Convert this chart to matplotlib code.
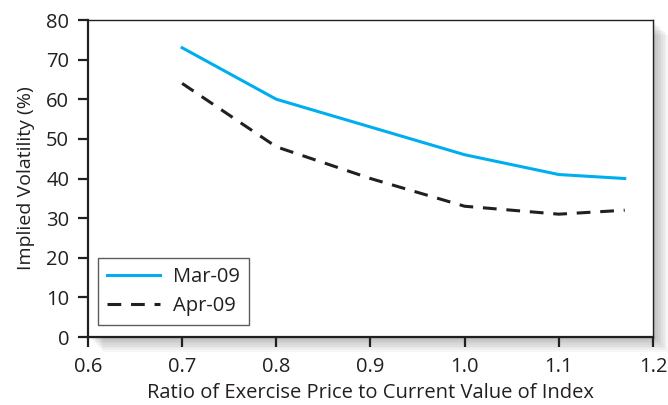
import matplotlib
matplotlib.use("Agg")
import matplotlib.pyplot as plt
from matplotlib.patches import Rectangle

# Implied volatility vs. moneyness for two expiries
ratio = [0.7, 0.8, 0.9, 1.0, 1.1, 1.17]
mar_09 = [73, 60, 53, 46, 41, 40]
apr_09 = [64, 48, 40, 33, 31, 32]
x_ticks = [0.6, 0.7, 0.8, 0.9, 1.0, 1.1, 1.2]
x_tick_labels = ["0.6", "0.7", "0.8", "0.9", "1.0", "1.1", "1.2"]
y_ticks = [0, 10, 20, 30, 40, 50, 60, 70, 80]

plt.rcParams['font.family'] = ['Open Sans', 'DejaVu Sans']
text_color = "#231f20"

fig = plt.figure(figsize=(6.68, 4.05), dpi=100)
ax = fig.add_axes([0.1317, 0.1679, 0.8458, 0.7827])

# soft drop shadow on the right and bottom of the plot frame
bb = ax.get_position()
for i in range(9):
    off = 0.0025 * (i + 1)
    fig.patches.append(Rectangle((bb.x0 + off, bb.y0 - off * 1.6), bb.width, bb.height,
                                 transform=fig.transFigure, facecolor="#000000",
                                 alpha=0.03, edgecolor="none", zorder=0))

ax.set_zorder(1)
ax.plot(ratio, mar_09, color="#00aeef", lw=2.2, label="Mar-09")
ax.plot(ratio, apr_09, color=text_color, lw=2.2, ls=(0, (4.5, 3.2)), label="Apr-09")

ax.set_xlim(0.6, 1.2)
ax.set_ylim(0, 80)
ax.set_xticks(x_ticks)
ax.set_xticklabels(x_tick_labels)
ax.set_yticks(y_ticks)
ax.tick_params(direction="out", length=7.5, width=1.6, color=text_color,
               labelsize=14.5, labelcolor=text_color)
ax.tick_params(axis="x", pad=7)
ax.tick_params(axis="y", pad=6)
for s in ax.spines.values():
    s.set_color(text_color)
    s.set_linewidth(1.0)
for s in ("left", "bottom"):
    ax.spines[s].set_linewidth(1.6)

ax.set_xlabel("Ratio of Exercise Price to Current Value of Index", fontsize=14.5,
              color=text_color, labelpad=4.5)
ax.set_ylabel("Implied Volatility (%)", fontsize=14, color=text_color, labelpad=8)

leg = ax.legend(loc="lower left", bbox_to_anchor=(0.018, 0.038), borderaxespad=0,
                fontsize=14.5, frameon=True, fancybox=False, handlelength=2.6,
                handletextpad=0.65, borderpad=0.45, labelspacing=0.42,
                labelcolor=text_color)
leg.get_frame().set_edgecolor("#333333")
leg.get_frame().set_linewidth(1.0)

fig.savefig("out.png", dpi=100, facecolor="white")
